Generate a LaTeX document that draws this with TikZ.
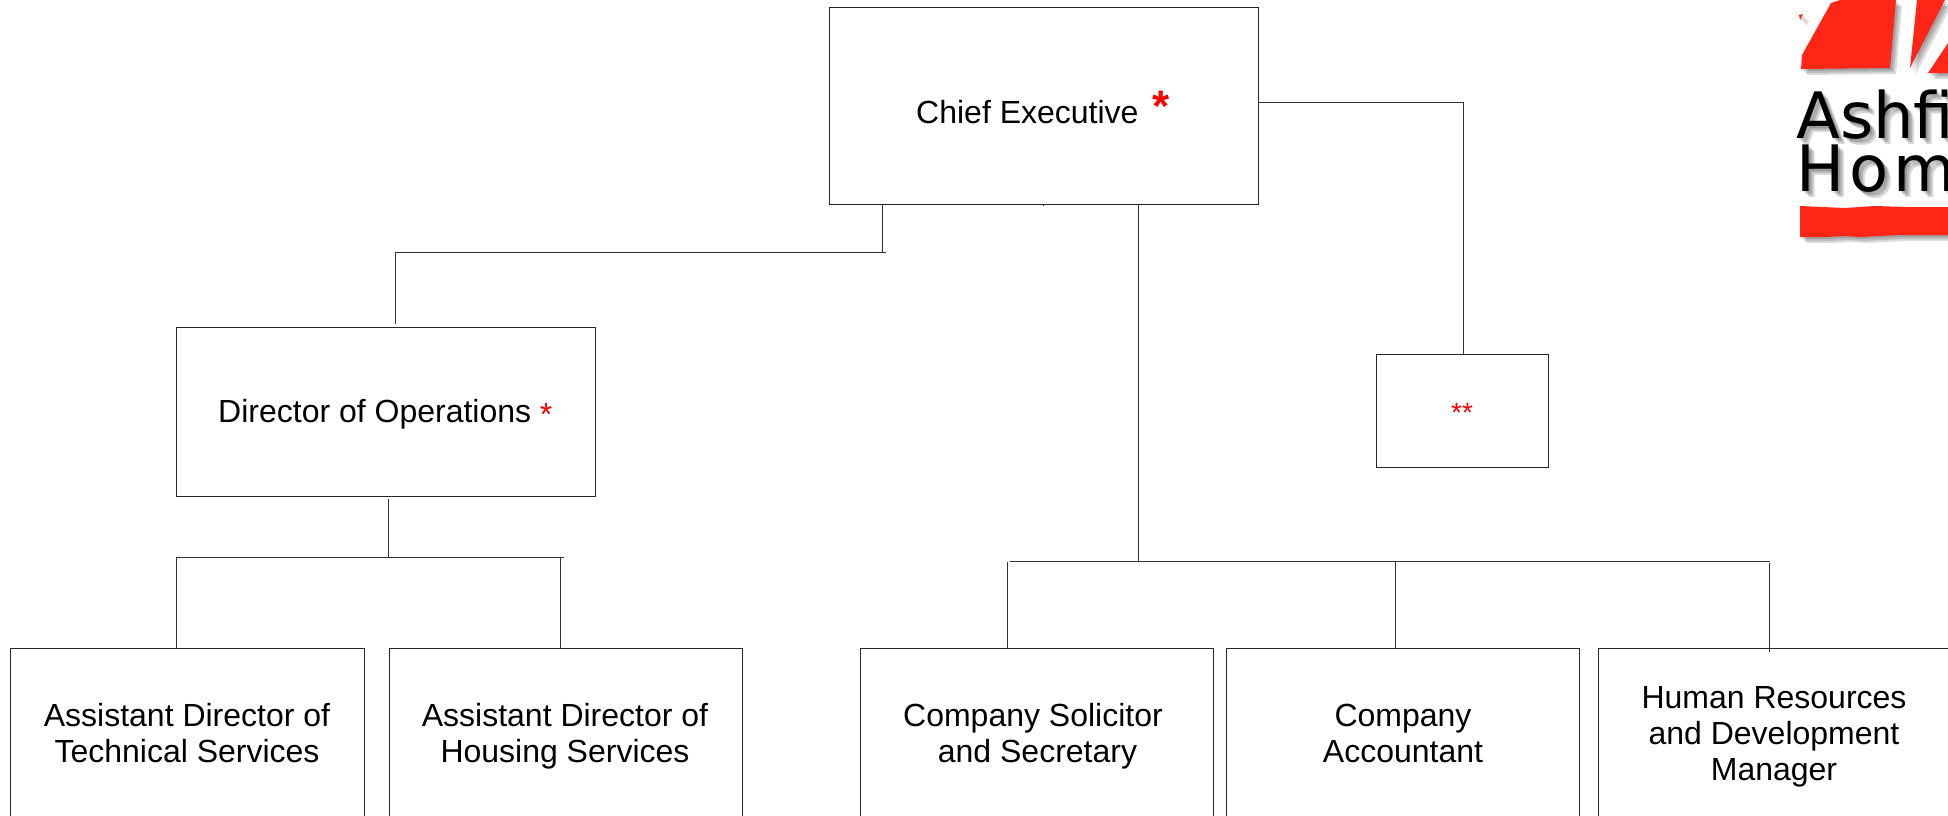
\documentclass[tikz,border=0pt]{standalone}
\usepackage{fontspec}
\setmainfont{Liberation Sans}
\newfontfamily\logofont{DejaVu Sans}
\newfontfamily\logofontwide[LetterSpace=8]{DejaVu Sans}
\tikzset{
  orgbox/.style={draw=black!85,line width=1pt,fill=white,rectangle,inner sep=0pt},
  orgtext/.style={inner sep=0pt,align=center,font=\fontsize{32}{36}\selectfont,text=black},
  redstar/.style={inner sep=0pt,text=red},
  wire/.style={draw=black!80,line width=1pt},
  logored/.style={fill=logoRed,draw=none},
  logoshadow/.style={fill=black,fill opacity=0.14,draw=none},
  logotext/.style={inner sep=0pt,anchor=base west,font=\fontsize{64}{64}\selectfont},
}
\definecolor{logoRed}{RGB}{255,38,24}
\begin{document}
\begin{tikzpicture}[x=1pt,y=-1pt]
\useasboundingbox (0,0) rectangle (1948,815);
\clip (0,0) rectangle (1948,815);
\fill[white] (0,0) rectangle (1948,815);

% logo
\def\logoshapes{
  (1831,3) -- (1840,0) -- (1896,0) -- (1890,68) -- (1801,69) -- (1802,55) -- cycle
  (1917,0) -- (1910,68) -- (1945,0) -- cycle
  (1928,73) -- (1948,43) -- (1948,73) -- cycle
  (1799,15) -- (1803,14) -- (1800,20) -- cycle
  (1800,206) -- (1845,208) -- (1875,206) -- (1905,207) -- (1948,207) -- (1948,235) -- (1900,235) -- (1860,237) -- (1845,236) -- (1825,237) -- (1800,237) -- cycle
}
\foreach \d in {2,4,6}{
  \begin{scope}[shift={(\d,\d)}]
    \path[logoshadow] \logoshapes;
  \end{scope}
}
\path[logored] \logoshapes;
\foreach \d in {2,4,6}{
  \node[logotext,text=black,text opacity=0.16] at (1796+\d,138+\d) {\logofont Ashfi};
  \node[logotext,text=black,text opacity=0.16] at (1796+\d,191+\d) {\logofontwide Hom};
}
\node[logotext] (logoA) at (1796,138) {\logofont Ashfi};
\node[logotext] (logoH) at (1796,191) {\logofontwide Hom};

% boxes
\node[orgbox,minimum width=429pt,minimum height=197pt] (ce) at (1043.5,106) {};
\node[orgbox,minimum width=419pt,minimum height=169pt] (dir) at (385.5,411.5) {};
\node[orgbox,minimum width=172pt,minimum height=113pt] (star) at (1462,410.5) {};
\node[orgbox,minimum width=354pt,minimum height=260pt] (adt) at (187,778) {};
\node[orgbox,minimum width=353pt,minimum height=260pt] (adh) at (565.5,778) {};
\node[orgbox,minimum width=353pt,minimum height=260pt] (sol) at (1037,778) {};
\node[orgbox,minimum width=353pt,minimum height=260pt] (acc) at (1402.5,778) {};
\node[orgbox,minimum width=380pt,minimum height=260pt] (hr) at (1788,778) {};

% box texts
\node[orgtext,anchor=base west] (cetext) at (916,123) {Chief Executive};
\node[redstar,font=\fontsize{44}{44}\selectfont\bfseries] (cestar) at (1161.5,106) {*};
\node[orgtext,anchor=base west] (dirtext) at (218,422) {Director of Operations};
\node[redstar,font=\fontsize{32}{32}\selectfont] (dirstar) at (546,414) {*};
\node[redstar,font=\fontsize{28}{28}\selectfont] (starstar) at (1462,413) {**};
\node[orgtext] (adttext) at (187,733) {Assistant Director of\\Technical Services};
\node[orgtext] (adhtext) at (565,736) {Assistant Director of\\Housing Services};
\node[orgtext] (soltext) at (1033,736) {Company Solicitor\\\hspace*{9pt}and Secretary};
\node[orgtext] (acctext) at (1403,733) {Company\\Accountant};
\node[orgtext] (hrtext) at (1774,737) {Human Resources\\and Development\\Manager};

% connector joints
\coordinate (a1) at (882,252);
\coordinate (a2) at (886,252);
\coordinate (a3) at (395,252);
\coordinate (a4) at (395,324);
\coordinate (b1) at (1463.5,102);
\coordinate (t1) at (1138.5,561);
\coordinate (t2) at (1010,561);
\coordinate (t3) at (1769.5,561);
\coordinate (t4) at (1007.5,562);
\coordinate (t5) at (1395,561);
\coordinate (t6) at (1769.5,563);
\coordinate (t7) at (1769.5,652);
\coordinate (d0) at (388.7,499);
\coordinate (d1) at (388.7,557.5);
\coordinate (d2) at (176,557.5);
\coordinate (d3) at (564,557.5);
\coordinate (d4) at (560,557.5);
\coordinate (tick) at (1043.5,206);

% connectors
\draw[wire] (ce.south -| a1) -- (a1);
\draw[wire] (a2) -- (a3) -- (a4);
\draw[wire] (ce.east |- b1) -- (b1) -- (star.north -| b1);
\draw[wire] (ce.south -| t1) -- (t1);
\draw[wire] (t2) -- (t3);
\draw[wire] (t4) -- (adt.north -| t4);
\draw[wire] (t5) -- (acc.north -| t5);
\draw[wire] (t6) -- (t7);
\draw[wire] (d0) -- (d1);
\draw[wire] (d3) -- (d2) -- (adt.north -| d2);
\draw[wire] (d4) -- (adh.north -| d4);
\draw[wire,line width=0.8pt] (ce.south) -- (tick);
\end{tikzpicture}
\end{document}
